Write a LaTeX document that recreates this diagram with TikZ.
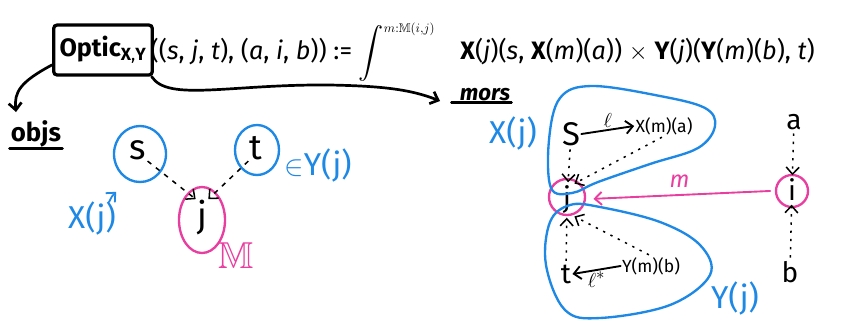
\documentclass[tikz,border=0pt]{standalone}
\usepackage{fontspec}
\usepackage{amssymb}
\setmainfont{Fira Sans}
\usetikzlibrary{arrows.meta, positioning}

\definecolor{penblue}{RGB}{30,136,229}
\definecolor{penpink}{RGB}{232,62,160}

\begin{document}
\begin{tikzpicture}[
        x = 0.03cm, y = -0.03cm,
        >= {Straight Barb[length = 6pt, width = 11pt]},
        pen/.style = {line width = 2.3pt, line cap = round, line join = round},
        bluepen/.style = {pen, line width = 2pt, draw = penblue},
        pinkpen/.style = {pen, line width = 2pt, draw = penpink},
        dots/.style = {line width = 1.3pt, dash pattern = on 2pt off 5pt, ->, shorten >= 2pt, shorten <= 2pt},
        big/.style = {font = \fontsize{30}{36}\selectfont, inner sep = 1pt},
        hand/.style = {font = \fontsize{24}{28}\selectfont, inner sep = 1pt},
        label/.style = {font = \fontsize{27}{32}\selectfont, inner sep = 1pt, text = penblue},
        small/.style = {font = \fontsize{15}{18}\selectfont, inner sep = 1pt}
    ]
      \useasboundingbox (0,0) rectangle (845,322);

      % the definition
      \node[draw, line width = 2.8pt, rounded corners = 3pt, inner xsep = 5pt, minimum height = 1.5cm,
            font = \fontsize{21.5}{26}\selectfont] (optic) at (103,50)
            {\textbf{Optic}\textsubscript{\textbf{X},\textbf{Y}}};
      \node[anchor = west, inner sep = 0pt, font = \fontsize{21.5}{26}\selectfont] (formula) at ([xshift = -3pt, yshift = -2pt]optic.east)
            {((\textit{s}, \textit{j}, \textit{t}), (\textit{a}, \textit{i}, \textit{b})) := $\displaystyle\int^{\scriptscriptstyle m:\mathbb{M}(i,j)}$\quad
             \textbf{X}(\textit{j})(\textit{s}, \textbf{X}(\textit{m})(\textit{a})) $\times$ \textbf{Y}(\textit{j})(\textbf{Y}(\textit{m})(\textit{b}), \textit{t})};

      \node[hand, font = \fontsize{22}{26}\selectfont\bfseries] (objs) at (36,134) {objs};
      \draw[pen] (objs.south west) -- (objs.south east);
      \node[small, font = \fontsize{19}{22}\selectfont\bfseries\itshape] (mors) at (485,95) {mors};
      \draw[pen] ([xshift = -6pt]mors.south west) -- (mors.south east);

      \coordinate (objsend) at (16,112);
      \coordinate (morsend) at (440,101);
      \draw[pen, ->] ([yshift = 10pt]optic.south west) .. controls (20,82) and (14,92) .. (objsend);
      \draw[pen, ->] ([xshift = -2pt]optic.south east) .. controls (168,102) and (230,84) .. (330,85)
                     .. controls (380,86) and (410,89) .. (morsend);

      % objects
      \node[big] (s1) at (138,150) {s};
      \node[big] (t1) at (256,148) {t};
      \node[big] (j1) at (202,218) {j};
      \draw[bluepen] (140,154) ellipse (26 and 28);
      \draw[bluepen] (257,150) ellipse (22 and 25);
      \draw[pinkpen] (202,220) ellipse (23 and 33);
      \draw[line width = 1.3pt, dash pattern = on 4pt off 5pt, ->] (s1.south east) -- (j1.north west);
      \draw[line width = 1.3pt, dash pattern = on 4pt off 5pt, ->] (t1.south west) -- (j1.north east);

      \node[label] (xj1) at (92,218) {X(j)};
      \draw[line width = 1.5pt, draw = penblue, ->, shorten >= 1pt] ([xshift = -7pt, yshift = -2pt]xj1.north east) .. controls (112,196) .. (117,191);
      \node[label] (yj1) at (318,165) {$\in$Y(j)};
      \node[label, text = penpink, font = \fontsize{32}{36}\selectfont] (mm1) at (236,256) {$\mathbb{M}$};

      % morphisms
      \node[hand, font = \fontsize{28}{32}\selectfont] (s2) at (571,134) {S};
      \node[small] (xma) at (664,126) {X(m)(a)};
      \node[hand] (j2) at (567,200) {j};
      \node[hand] (t2) at (566,274) {t};
      \node[small] (ymb) at (651,266) {Y(m)(b)};
      \node[hand] (a2) at (794,122) {a};
      \node[hand] (i2) at (792,190) {i};
      \node[hand] (b2) at (790,272) {b};

      \draw[pinkpen] (567,197) circle (18);
      \draw[pinkpen] (792,191) circle (16);

      \draw[pen, line width = 1.6pt, ->] (s2.east) -- node[above, small, font = \fontsize{19}{22}\selectfont] {$\ell$} (xma.west);
      \draw[pen, line width = 1.6pt, ->] (ymb.west) -- node[below, small, font = \fontsize{19}{22}\selectfont] {$\ell^{*}$} (t2.east);
      \draw[dots] (s2) -- (j2);
      \draw[dots] (xma.south) -- (j2.north east);
      \draw[dots] (t2) -- (j2);
      \draw[dots] (ymb.north) -- (j2.south east);
      \draw[dots] (a2) -- (i2);
      \draw[dots] (b2) -- (i2);
      \draw[pinkpen, line width = 1.6pt, ->, shorten >= 18pt, shorten <= 14pt] (i2) -- node[above = 2pt, text = penpink, font = \fontsize{20}{24}\selectfont\itshape] {m} (j2);

      \draw[bluepen] plot[smooth cycle, tension = 0.6] coordinates
          {(551,188) (549,140) (560,98) (592,86) (660,96) (705,108) (715,126) (698,148) (650,164) (598,182) (572,193)};
      \draw[bluepen] plot[smooth cycle, tension = 0.6] coordinates
          {(570,205) (550,222) (546,265) (565,310) (600,318) (670,305) (710,275) (700,245) (660,222) (600,207)};
      \node[label] (xj2) at (513,133) {X(j)};
      \node[label] (yj2) at (735,298) {Y(j)};
    \end{tikzpicture}
\end{document}
